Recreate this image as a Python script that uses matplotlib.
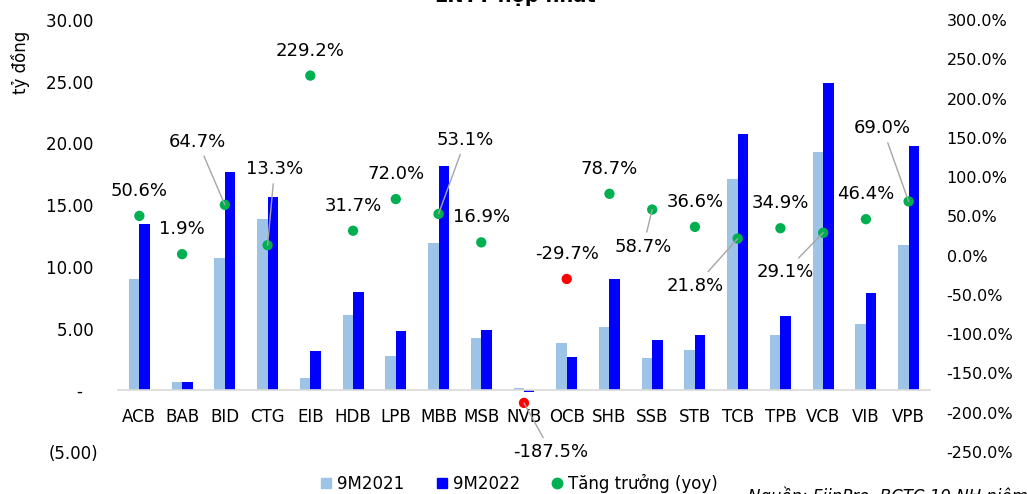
#!/usr/bin/env python3
import matplotlib
matplotlib.use('Agg')
import matplotlib.pyplot as plt
from matplotlib.lines import Line2D
import numpy as np

banks = ['ACB', 'BAB', 'BID', 'CTG', 'EIB', 'HDB', 'LPB', 'MBB', 'MSB', 'NVB',
         'OCB', 'SHB', 'SSB', 'STB', 'TCB', 'TPB', 'VCB', 'VIB', 'VPB']
lntt_9m2021 = [9.0, 0.7, 10.7, 13.9, 1.0, 6.1, 2.8, 11.9, 4.2, 0.2,
               3.8, 5.1, 2.6, 3.3, 17.1, 4.45, 19.3, 5.35, 11.75]
lntt_9m2022 = [13.5, 0.7, 17.7, 15.7, 3.2, 8.0, 4.8, 18.2, 4.85, -0.15,
               2.7, 9.05, 4.05, 4.45, 20.8, 6.0, 24.9, 7.85, 19.8]
growth = [50.6, 1.9, 64.7, 13.3, 229.2, 31.7, 72.0, 53.1, 16.9, -187.5,
          -29.7, 78.7, 58.7, 36.6, 21.8, 34.9, 29.1, 46.4, 69.0]

left_ticks = [-5, 0, 5, 10, 15, 20, 25, 30]
left_ticklabels = ['(5.00)', '-   ', '5.00 ', '10.00 ', '15.00 ', '20.00 ', '25.00 ', '30.00 ']
right_ticks = [-250, -200, -150, -100, -50, 0, 50, 100, 150, 200, 250, 300]

# label offsets in pixels (dx, dy) and whether a leader line is drawn
label_pos = {
    'BID': (-27, 63, True), 'CTG': (7, 76, True), 'MBB': (27, 74, True),
    'NVB': (27, -49, True), 'SSB': (-9, -37, True), 'TCB': (-42, -47, True),
    'VCB': (-38, -39, True), 'VPB': (-26, 73, True),
}

light = '#9DC3E6'
dark = '#0000FF'
green = '#00B050'
red = '#FF0000'

plt.rcParams['font.family'] = ['DejaVu Sans']
fig = plt.figure(figsize=(10.27, 4.94), dpi=100)
ax = fig.add_axes([118/1027, 1-452/494, (930-118)/1027, 432/494])

x = np.arange(len(banks))
w = 0.245
ax.bar(x - w/2, lntt_9m2021, w, color=light)
ax.bar(x + w/2, lntt_9m2022, w, color=dark)
ax.set_xlim(-0.5, len(banks) - 0.5)
ax.set_ylim(-5, 30)
ax.set_yticks(left_ticks)
ax.set_yticklabels(left_ticklabels)
ax.set_xticks(x)
ax.set_xticklabels(banks)
for s in ['top', 'left', 'right']:
    ax.spines[s].set_visible(False)
ax.spines['bottom'].set_position(('data', 0))
ax.spines['bottom'].set_color('#D9D9D9')
ax.spines['bottom'].set_linewidth(1.2)
ax.tick_params(axis='x', length=0, pad=13, labelsize=12)
ax.tick_params(axis='y', length=0, pad=14, labelsize=12)
ax.set_ylabel('tỷ đồng', fontsize=12)
ax.yaxis.set_label_coords(-88/812, (452-62)/432)

ax2 = ax.twinx()
ax2.set_ylim(-250, 300)
ax2.set_yticks(right_ticks)
ax2.set_yticklabels([f'{t:.1f}%' for t in right_ticks])
ax2.tick_params(axis='y', length=0, pad=12, labelsize=11.5)
for s in ['top', 'left', 'right', 'bottom']:
    ax2.spines[s].set_visible(False)

colors = [green if g >= 0 else red for g in growth]
ax2.scatter(x, growth, s=55, color=colors, zorder=3, linewidths=0)

for i, (b, g) in enumerate(zip(banks, growth)):
    dx, dy, leader = label_pos.get(b, (0, 25, False))
    kw = {}
    if leader:
        kw['arrowprops'] = dict(arrowstyle='-', color='#A6A6A6', lw=1,
                                shrinkA=2, shrinkB=0)
    ax2.annotate(f'{g:.1f}%', (i, g), xytext=(dx, dy), textcoords='offset pixels',
                 ha='center', va='center', fontsize=13, **kw)

handles = [
    Line2D([], [], marker='s', color=light, linestyle='none', markersize=7.5),
    Line2D([], [], marker='s', color=dark, linestyle='none', markersize=7.5),
    Line2D([], [], marker='o', color=green, linestyle='none', markersize=7.5),
]
fig.legend(handles, ['9M2021', '9M2022', 'Tăng trưởng (yoy)'], ncol=3,
           loc='center', bbox_to_anchor=(518/1027, 1-483/494), frameon=False,
           fontsize=12, handletextpad=0.15, columnspacing=1.75, handlelength=1)

fig.text(515/1027, 1-2/494, 'LNTT hợp nhất', ha='center', va='baseline',
         fontsize=14, fontweight='bold')
fig.text(748/1027, 1-502/494, 'Nguồn: FiinPro, BCTC 19 NH niêm yết',
         ha='left', va='baseline', fontsize=12, style='italic')

fig.savefig('out.png', dpi=100)
